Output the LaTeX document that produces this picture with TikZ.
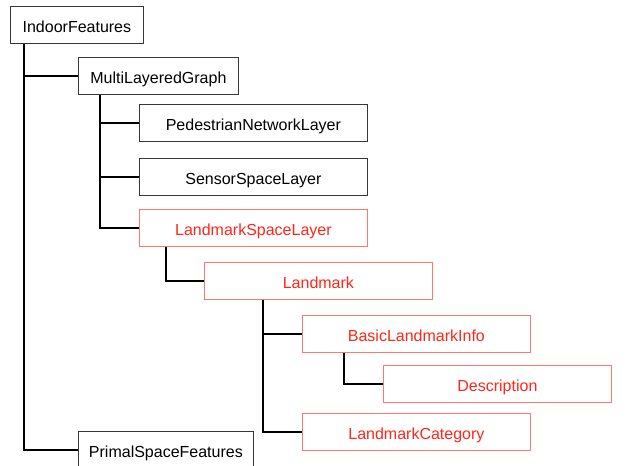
\documentclass[tikz,border=0pt]{standalone}
\usepackage{fontspec}
\setmainfont{Liberation Sans}
\usepackage{xcolor}
\usetikzlibrary{calc, positioning}

\definecolor{lmred}{RGB}{255,38,25}
\definecolor{lmedge}{RGB}{255,120,110}
\definecolor{boxedge}{RGB}{55,55,55}

\tikzset{
  featbox/.style={draw=boxedge, line width=0.6pt, anchor=north west,
    inner sep=0pt, minimum height=27.75pt, text height=11pt, text depth=0.2pt,
    font=\fontsize{12}{14}\selectfont},
  lmbox/.style={featbox, draw=lmedge, text=lmred},
  wide/.style={minimum width=171pt},
  tree/.style={line width=1.4pt, line join=miter}
}

\begin{document}
\begin{tikzpicture}[x=0.75pt, y=-0.75pt]
\useasboundingbox (0,0) rectangle (628,466);

\node[featbox, minimum width=99.75pt] (indoor) at (10,6) {IndoorFeatures};
\node[featbox, minimum width=120pt] (graph) at (78,57) {MultiLayeredGraph};
\node[featbox, wide] (pedestrian) at (139,104) {PedestrianNetworkLayer};
\node[featbox, wide] (sensor) at (139,158) {SensorSpaceLayer};
\node[lmbox, wide] (lmlayer) at (139,209) {LandmarkSpaceLayer};
\node[lmbox, wide] (landmark) at (204,262) {Landmark};
\node[lmbox, wide] (basicinfo) at (302,315) {BasicLandmarkInfo};
\node[lmbox, wide] (description) at (383,365) {Description};
\node[lmbox, wide] (category) at (302,413) {LandmarkCategory};
\node[featbox, minimum width=131.25pt] (primal) at (78,431) {PrimalSpaceFeatures};

% tree connectors
\draw[tree] ($(indoor.south west)+(14,0)$) |- (graph.west);
\draw[tree] ($(indoor.south west)+(14,0)$) |- (primal.west);
\draw[tree] ($(graph.south west)+(22,0)$) |- (pedestrian.west);
\draw[tree] ($(graph.south west)+(22,0)$) |- (sensor.west);
\draw[tree] ($(graph.south west)+(22,0)$) |- (lmlayer.west);
\draw[tree] ($(lmlayer.south west)+(27,0)$) |- (landmark.west);
\draw[tree] ($(landmark.south west)+(59,0)$) |- (basicinfo.west);
\draw[tree] ($(landmark.south west)+(59,0)$) |- (category.west);
\draw[tree] ($(basicinfo.south west)+(42,0)$) |- (description.west);
\end{tikzpicture}
\end{document}
